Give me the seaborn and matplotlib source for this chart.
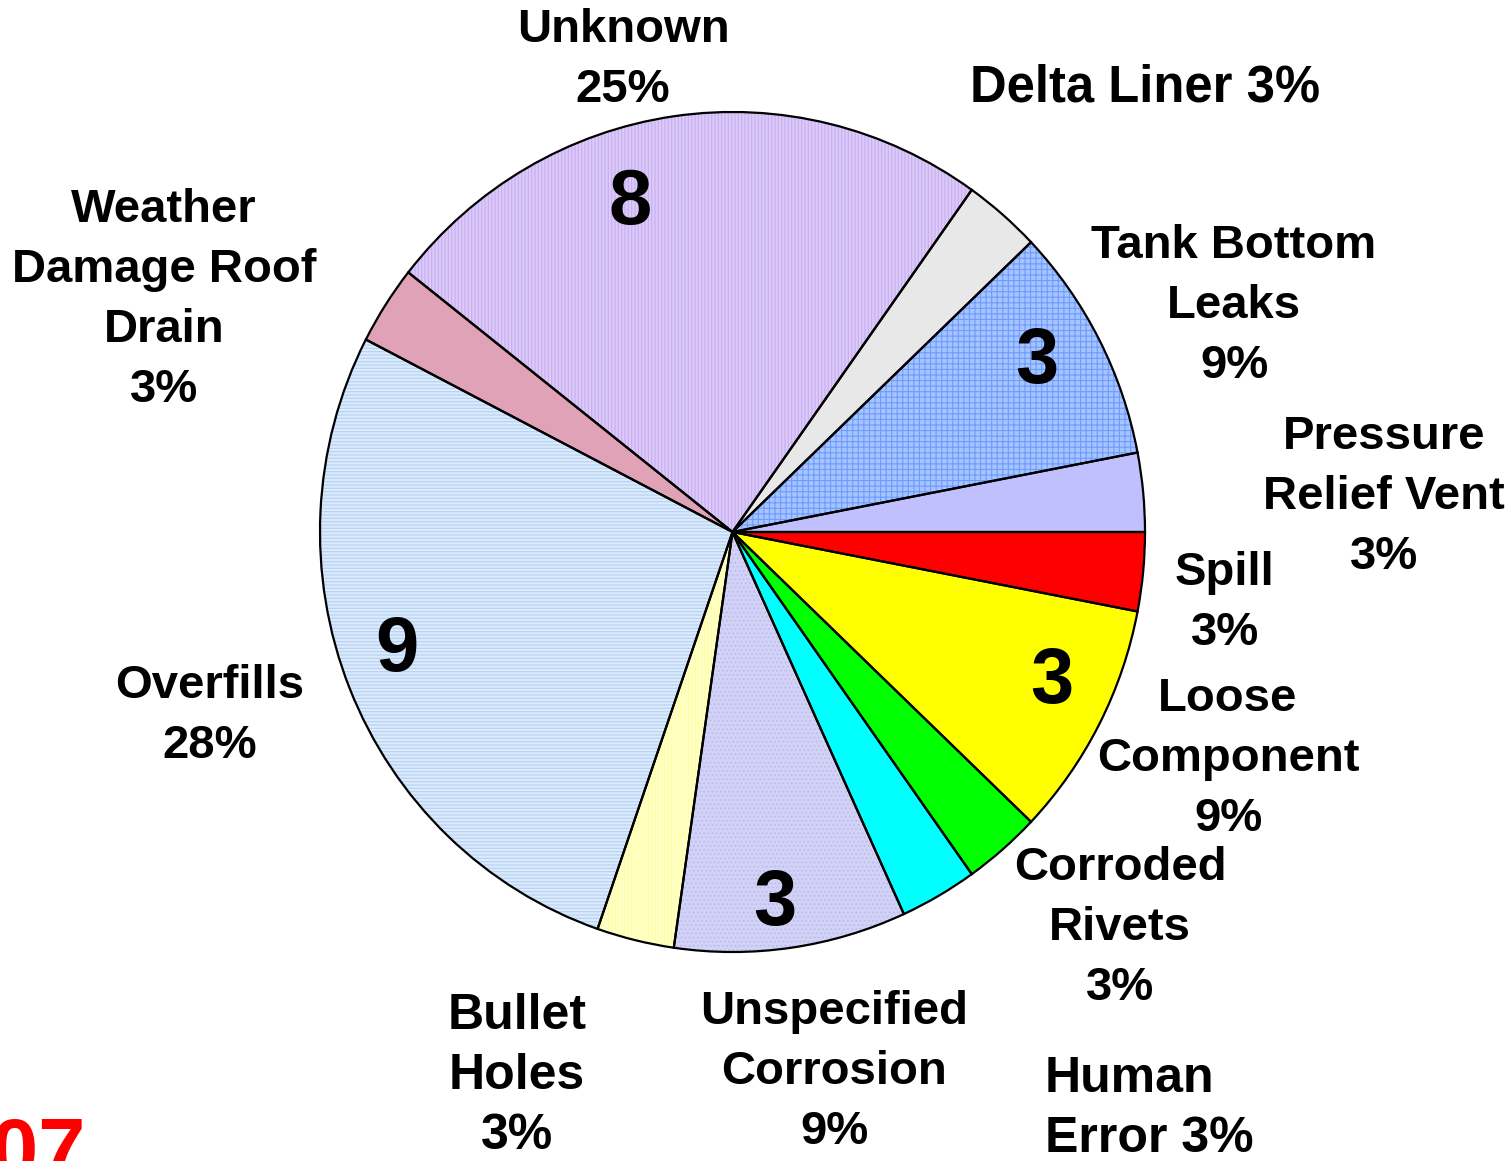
import pandas as pd
import seaborn as sns
import matplotlib.pyplot as plt

# --- data (clockwise from 3 o'clock) ---
causes = ['Spill', 'Loose Component', 'Corroded Rivets', 'Human Error',
          'Unspecified Corrosion', 'Bullet Holes', 'Overfills',
          'Weather Damage Roof Drain', 'Unknown', 'Delta Liner',
          'Tank Bottom Leaks', 'Pressure Relief Vent']
counts = [1, 3, 1, 1, 3, 1, 9, 1, 8, 1, 3, 1]
percent_labels = ['Spill\n3%', 'Loose\nComponent\n9%', 'Corroded\nRivets\n3%',
                  'Human\nError 3%', 'Unspecified\nCorrosion\n9%', 'Bullet\nHoles\n3%',
                  'Overfills\n28%', 'Weather\nDamage Roof\nDrain\n3%', 'Unknown\n25%',
                  'Delta Liner 3%', 'Tank Bottom\nLeaks\n9%', 'Pressure\nRelief Vent\n3%']
count_shown = ['', '3', '', '', '3', '', '9', '', '8', '', '3', '']

df = pd.DataFrame({'cause': causes, 'count': counts,
                   'label': percent_labels, 'shown': count_shown})

# --- styles ---
face = ['#ff0000', '#ffff00', '#00ff00', '#00ffff', '#d2d2f6', '#ffffcc',
        '#dceafb', '#e0a2b6', '#dccbf8', '#e8e8e8', '#a6c4ff', '#c0c0ff']
hatch_col = ['#ff0000', '#ffff00', '#00ff00', '#00ffff', '#bcbcee', '#ffff9e',
             '#b4d2f5', '#d894aa', '#c8adf0', '#e2e2e2', '#6f9bff', '#c0c0ff']
hatches = ['', '', '', '', '....', '|||||', '-----', '', '|||||', '', '+++', '']

# label positions in pixels of the 1511x1161 canvas (x, y from top), alignment, size
label_pos = [(1225, 603, 'center', 34), (1228, 759, 'center', 34), (1120, 928, 'center', 34),
             (1045, 1109, 'left', 36), (834, 1072, 'center', 34), (517, 1076, 'center', 36),
             (210, 716, 'center', 34), (164, 300, 'center', 34), (623, 60, 'center', 34),
             (1145, 88, 'center', 36.5), (1234, 306, 'center', 34), (1384, 497, 'center', 34)]
number_pos = {1: (1052, 683), 4: (775, 905), 6: (397, 651), 8: (630, 203), 10: (1037, 363)}

W, H = 1511, 1161
CX, CY = 732.5, 532     # pie centre, px from top-left
RX, RY = 412.5, 420     # the original pie is a touch taller than wide

sns.set_theme(style='white')
plt.rcParams['font.family'] = ['Liberation Sans', 'DejaVu Sans']
plt.rcParams['hatch.linewidth'] = 0.8

fig = plt.figure(figsize=(W / 100, H / 100), dpi=100)
ax = fig.add_axes([(CX - RX) / W, (H - CY - RY) / H, 2 * RX / W, 2 * RY / H])

# filled wedges with pattern (hatch uses the edge colour)
wedges, _ = ax.pie(df['count'], startangle=0, counterclock=False, colors=face,
                   wedgeprops=dict(linewidth=0))
for w, hc, ht in zip(wedges, hatch_col, hatches):
    w.set_edgecolor(hc)
    w.set_hatch(ht)

# black outlines on top
ax.pie(df['count'], startangle=0, counterclock=False,
       wedgeprops=dict(fill=False, edgecolor='black', linewidth=1.6))

ax.set_aspect('auto')
ax.set_xlim(-1, 1)
ax.set_ylim(-1, 1)
ax.axis('off')

for (x, y, ha, fs), txt in zip(label_pos, df['label']):
    fig.text(x / W, 1 - y / H, txt, ha=ha, va='center',
             fontsize=fs, fontweight='bold', linespacing=1.47 * 34 / fs, color='black')

for i, (x, y) in number_pos.items():
    fig.text(x / W, 1 - y / H, df['shown'][i], ha='center', va='center',
             fontsize=56, fontweight='bold', color='black')

fig.text(86 / W, -17 / H, '2007', ha='right', va='baseline',
         fontsize=61, fontweight='bold', color='#ff0000')

plt.savefig('out.png', dpi=100)
